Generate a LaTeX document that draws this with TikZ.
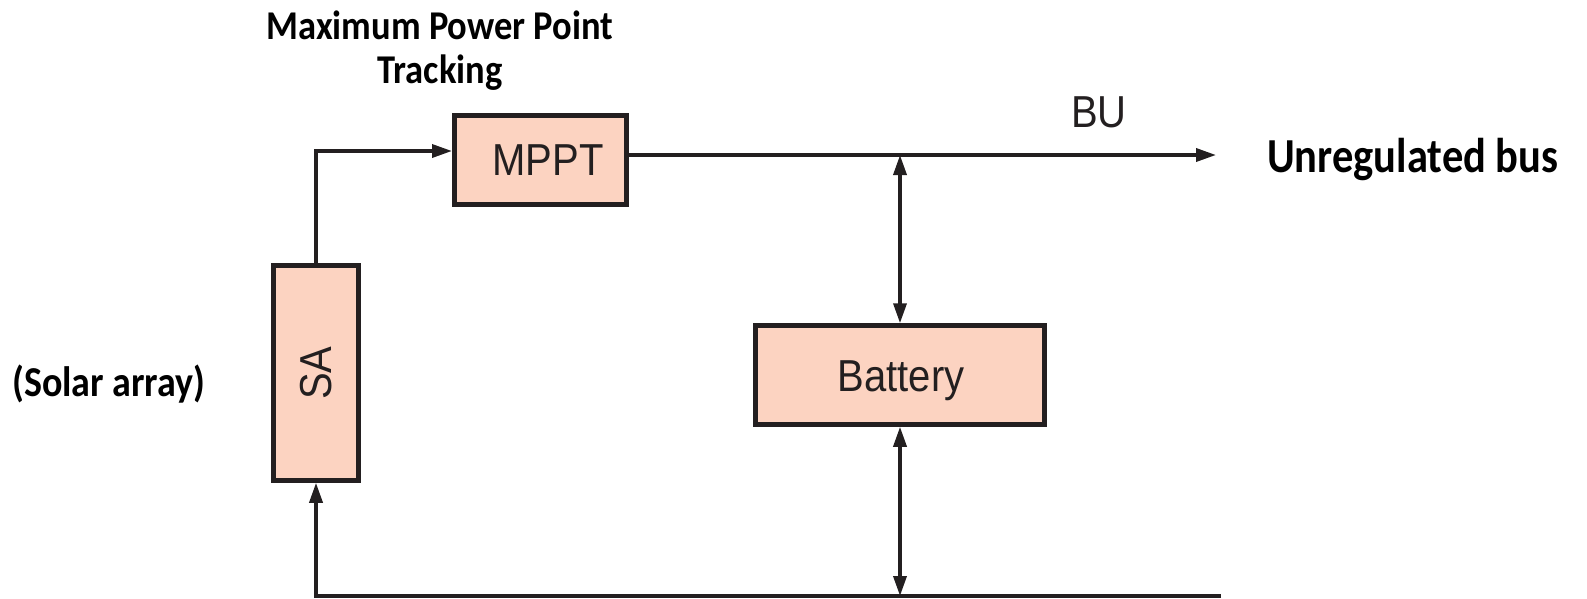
\documentclass[tikz,border=0pt]{standalone}
\usepackage{fontspec}
\setmainfont{Liberation Sans}
\newfontfamily\boldfont{Carlito}
\usetikzlibrary{arrows.meta}
\definecolor{ink}{HTML}{231F20}
\definecolor{peach}{HTML}{FCD3C1}
\newcommand{\vstr}[1]{\scalebox{1}[1.12]{#1}}
\tikzset{
  blockbox/.style={draw=ink, fill=peach, line width=4.5pt, inner sep=0pt, text=ink},
  wire/.style={draw=ink, line width=3.5pt},
  onetip/.style={-{Triangle[length=20pt,width=13pt]}},
  twotips/.style={{Triangle[length=20pt,width=13pt]}-{Triangle[length=20pt,width=13pt]}},
  boldnote/.style={inner sep=0pt, text=black, font=\boldfont\bfseries\fontsize{36.5}{44}\selectfont},
  plainlabel/.style={inner sep=0pt, text=ink, font=\fontsize{40}{48}\selectfont}
}
\begin{document}
\begin{tikzpicture}[x=1pt,y=-1pt]
\useasboundingbox (0,0) rectangle (1587,598);
% blocks
\node[blockbox, minimum width=172pt, minimum height=89pt] (mppt) at (540.5,160) {};
\node[plainlabel, anchor=base] (mpptt) at (548,175) {\vstr{MPPT}};
\node[blockbox, minimum width=85pt, minimum height=215pt] (sa) at (316,373) {};
\node[plainlabel, rotate=90] (sat) at (316,373) {\vstr{SA}};
\node[blockbox, minimum width=289pt, minimum height=99pt] (bat) at (900,375) {};
\node[plainlabel, anchor=base] (batt) at (901,391) {\vstr{Battery}};
% labels
\node[boldnote, align=center, anchor=base] (mpptlabel) at (440,83) {\vstr{Maximum Power Point}\\\vstr{Tracking}};
\node[boldnote, anchor=base west] (buslabel) at (1267,172) {\fontsize{42.5}{48}\selectfont\scalebox{1}[1.15]{Unregulated bus}};
\node[boldnote, anchor=base west] (salabel) at (12,396) {\fontsize{38}{44}\selectfont\vstr{(Solar array)}};
\node[plainlabel, anchor=base] (bu) at (1099,127) {\vstr{BU}};
% coordinates
\coordinate (corner) at (316,151);
\coordinate (mppin) at (452,151);
\coordinate (busstart) at (629,155);
\coordinate (busend) at (1216,155);
\coordinate (tap) at (900,155);
\coordinate (gnd) at (900,596);
\coordinate (gndend) at (1221,596);
\coordinate (gndleft) at (316,596);
% connectors
\draw[wire, onetip] (sa.north) -- (corner) -- (mppin);
\draw[wire, onetip] (busstart) -- (busend);
\draw[wire, twotips] (tap) -- (bat.north);
\draw[wire, twotips] (bat.south) -- (gnd);
\draw[wire, onetip] (gndend) -- (gndleft) -- (sa.south);
\end{tikzpicture}
\end{document}
